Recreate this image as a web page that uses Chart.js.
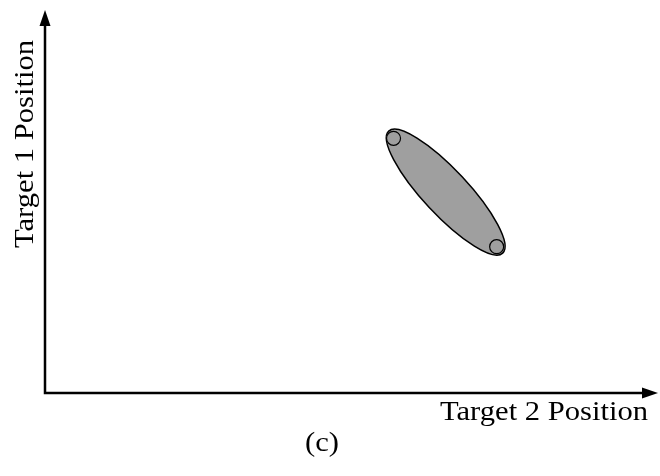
<!DOCTYPE html>
<html><head><meta charset="utf-8">
<script src="https://cdn.jsdelivr.net/npm/chart.js@4/dist/chart.umd.min.js"></script>
<style>html,body{margin:0;padding:0;background:#fff}#wrap{width:660px;height:476px}</style>
</head><body><div id="wrap"><canvas id="c" width="660" height="476"></canvas></div>
<script>
// Data (arbitrary position units 0..10)
const axisRangeX = [0, 10];
const axisRangeY = [0, 10];
const endPointsX = [5.78, 7.49];
const endPointsY = [6.72, 3.86];
const ellipseTipsX = [5.70, 7.59];
const ellipseTipsY = [6.91, 3.69];
const xLabel = 'Target 2 Position';
const yLabel = 'Target 1 Position';
const panelLabel = '(c)';

const FONT = '27px "Liberation Serif", "DejaVu Serif", serif';
const GREY = '#9f9f9f';

function stretchedText(ctx, text, x, y, targetWidth, align) {
  const w = ctx.measureText(text).width;
  const s = targetWidth / w;
  ctx.save();
  ctx.translate(x, y);
  ctx.scale(s, 1);
  ctx.textAlign = align;
  ctx.fillText(text, 0, 0);
  ctx.restore();
}

const drawPlugin = {
  id: 'diagram',
  beforeDatasetsDraw(chart) {
    const {ctx, scales: {x, y}} = chart;
    const x1 = x.getPixelForValue(ellipseTipsX[0]), y1 = y.getPixelForValue(ellipseTipsY[0]);
    const x2 = x.getPixelForValue(ellipseTipsX[1]), y2 = y.getPixelForValue(ellipseTipsY[1]);
    const cx = (x1 + x2) / 2, cy = (y1 + y2) / 2;
    const semiMajor = Math.hypot(x2 - x1, y2 - y1) / 2;
    const semiMinor = 22.5;
    const rot = Math.atan2(y2 - y1, x2 - x1);
    ctx.save();
    ctx.beginPath();
    ctx.ellipse(cx, cy, semiMajor, semiMinor, rot, 0, Math.PI * 2);
    ctx.fillStyle = GREY;
    ctx.fill();
    ctx.lineWidth = 1.5;
    ctx.strokeStyle = '#000';
    ctx.stroke();
    ctx.restore();
  },
  afterDraw(chart) {
    const {ctx, chartArea: a} = chart;
    ctx.save();
    ctx.strokeStyle = '#000';
    ctx.fillStyle = '#000';
    ctx.lineWidth = 2.5;
    const ox = a.left, oy = a.bottom;
    const topTip = 10, rightTip = 658;
    ctx.beginPath();
    ctx.moveTo(ox, oy + 1.25); ctx.lineTo(ox, topTip + 8);
    ctx.moveTo(ox - 1.25, oy); ctx.lineTo(rightTip - 8, oy);
    ctx.stroke();
    ctx.beginPath();
    ctx.moveTo(ox, topTip); ctx.lineTo(ox - 5.5, topTip + 16); ctx.lineTo(ox + 5.5, topTip + 16); ctx.closePath();
    ctx.fill();
    ctx.beginPath();
    ctx.moveTo(rightTip, oy); ctx.lineTo(rightTip - 16, oy - 5.5); ctx.lineTo(rightTip - 16, oy + 5.5); ctx.closePath();
    ctx.fill();
    ctx.font = FONT;
    ctx.textBaseline = 'alphabetic';
    stretchedText(ctx, xLabel, 648, 420, 208, 'right');
    ctx.save();
    ctx.translate(33, 40);
    ctx.rotate(-Math.PI / 2);
    stretchedText(ctx, yLabel, 0, 0, 208, 'right');
    ctx.restore();
    stretchedText(ctx, panelLabel, 322, 451, 34, 'center');
    ctx.restore();
  }
};

new Chart(document.getElementById('c'), {
  type: 'scatter',
  data: {
    datasets: [{
      data: endPointsX.map((v, i) => ({x: v, y: endPointsY[i]})),
      pointRadius: 7,
      pointHoverRadius: 7,
      backgroundColor: GREY,
      borderColor: '#000',
      borderWidth: 1.2
    }]
  },
  options: {
    responsive: false,
    animation: false,
    events: [],
    layout: {padding: {left: 45, top: 14, right: 12, bottom: 83}},
    plugins: {legend: {display: false}, tooltip: {enabled: false}},
    scales: {
      x: {display: false, min: axisRangeX[0], max: axisRangeX[1]},
      y: {display: false, min: axisRangeY[0], max: axisRangeY[1]}
    }
  },
  plugins: [drawPlugin]
});
</script></body></html>
